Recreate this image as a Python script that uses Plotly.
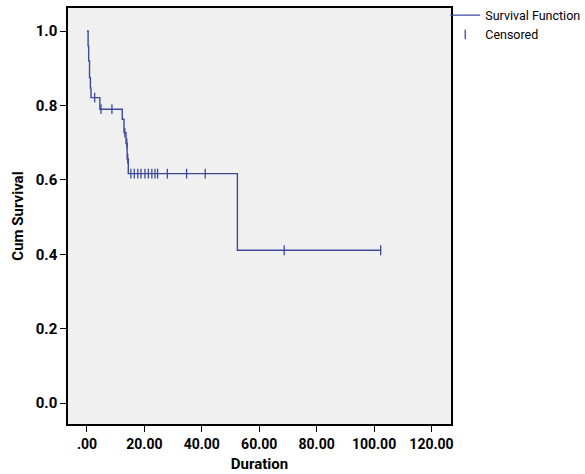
import plotly.graph_objects as go

# Kaplan-Meier step data
start_time = 0.0
start_surv = 1.0
event_times = [0.4, 0.6, 0.9, 1.2, 1.4, 4.5, 12.3, 12.9, 13.6, 14.0, 14.4, 52.4]
surv_after = [0.96, 0.92, 0.875, 0.847, 0.821, 0.790, 0.763, 0.727, 0.698, 0.657, 0.617, 0.411]
end_time = 102.3

censored_times = [2.7, 4.9, 8.7, 13.2, 13.9, 14.2,
                  15.3, 16.5, 17.7, 18.8, 20.2, 21.4, 22.6, 23.7, 24.6, 28.0, 34.7, 41.2,
                  68.7, 102.3]
censored_surv = [0.821, 0.790, 0.790, 0.727, 0.698, 0.657,
                 0.617, 0.617, 0.617, 0.617, 0.617, 0.617, 0.617, 0.617, 0.617, 0.617, 0.617, 0.617,
                 0.411, 0.411]

x_tick_vals = [0, 20, 40, 60, 80, 100, 120]
x_tick_text = [".00", "20.00", "40.00", "60.00", "80.00", "100.00", "120.00"]
y_tick_vals = [0.0, 0.2, 0.4, 0.6, 0.8, 1.0]
y_tick_text = ["0.0", "0.2", "0.4", "0.6", "0.8", "1.0"]

line_color = "#3d4a9c"
FONT = "Roboto, sans-serif"

step_x = [start_time] + event_times + [end_time]
step_y = [start_surv] + surv_after + [surv_after[-1]]

fig = go.Figure()
fig.add_trace(go.Scatter(
    x=step_x, y=step_y, mode="lines", line=dict(color=line_color, width=1.4, shape="hv"),
    name="Survival Function"))
fig.add_trace(go.Scatter(
    x=censored_times, y=censored_surv, mode="markers",
    marker=dict(symbol="line-ns", size=7, line=dict(color=line_color, width=1.3)),
    name="Censored"))

fig.update_layout(
    width=585, height=474,
    margin=dict(l=68, r=134, t=8, b=50, autoexpand=False),
    paper_bgcolor="white", plot_bgcolor="#f0f0f0",
    font=dict(family=FONT, color="black"),
    legend=dict(x=0.985, y=1.018, xanchor="left", yanchor="top", bgcolor="rgba(0,0,0,0)",
                font=dict(size=12.5, family=FONT), tracegroupgap=0, itemwidth=30,
                borderwidth=0),
    showlegend=True,
)
fig.update_xaxes(
    range=[-6.6, 126.8], tickvals=x_tick_vals, ticktext=x_tick_text, tickangle=0,
    ticks="outside", ticklen=6, tickcolor="black", tickwidth=1, automargin=False,
    showgrid=False, zeroline=False, showline=True, linecolor="black", linewidth=1.5, mirror=True,
    tickfont=dict(size=14, family=FONT, weight="bold"),
    title=dict(text="<b>Duration</b>", font=dict(size=15, family=FONT), standoff=8),
)
fig.update_yaxes(
    range=[-0.056, 1.062], tickvals=y_tick_vals, ticktext=y_tick_text,
    ticks="outside", ticklen=6, tickcolor="black", tickwidth=1, automargin=False,
    showgrid=False, zeroline=False, showline=True, linecolor="black", linewidth=1.5, mirror=True,
    tickfont=dict(size=15, family=FONT, weight="bold"),
    title=dict(text="<b>Cum Survival</b>", font=dict(size=15, family=FONT), standoff=8),
)

fig.write_html("out.html", config={"displayModeBar": False},
               post_script="document.body.style.margin='0px';document.body.style.overflow='hidden';")
